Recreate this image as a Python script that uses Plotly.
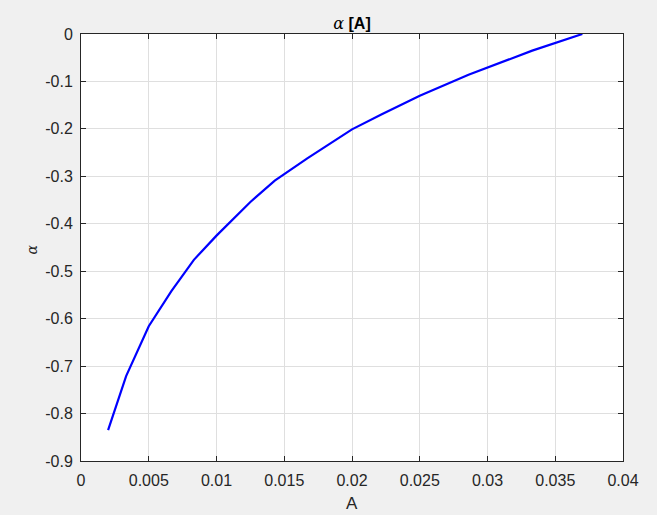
import plotly.graph_objects as go

a_vals = [0.002, 0.00333, 0.005, 0.00667, 0.00833, 0.01, 0.0125, 0.0143, 0.0167,
          0.02, 0.0222, 0.025, 0.0286, 0.0308, 0.0333, 0.037]
alpha_vals = [-0.835, -0.721, -0.616, -0.542, -0.476, -0.425, -0.354, -0.309, -0.262,
              -0.201, -0.169, -0.13, -0.086, -0.062, -0.035, 0.0]

x_ticks = [0, 0.005, 0.01, 0.015, 0.02, 0.025, 0.03, 0.035, 0.04]
x_labels = ["0", "0.005", "0.01", "0.015", "0.02", "0.025", "0.03", "0.035", "0.04"]
y_ticks = [0, -0.1, -0.2, -0.3, -0.4, -0.5, -0.6, -0.7, -0.8, -0.9]
y_labels = ["0", "-0.1", "-0.2", "-0.3", "-0.4", "-0.5", "-0.6", "-0.7", "-0.8", "-0.9"]

fig = go.Figure(go.Scatter(x=a_vals, y=alpha_vals, mode="lines",
                           line=dict(color="#0000ff", width=2.2)))

axis_style = dict(showline=True, linecolor="#262626", linewidth=1, mirror="ticks",
                  ticks="inside", ticklen=5, tickcolor="#262626",
                  showgrid=True, gridcolor="#dfdfdf", gridwidth=1, zeroline=False,
                  tickfont=dict(size=16, color="#262626"))

fig.update_xaxes(range=[0, 0.04], tickvals=x_ticks, ticktext=x_labels,
                 ticklabelstandoff=5, **axis_style)
fig.update_yaxes(range=[-0.9, 0], tickvals=y_ticks, ticktext=y_labels,
                 ticklabelstandoff=4, **axis_style)

# axis titles placed as annotations for exact positioning
fig.add_annotation(text="A", xref="paper", yref="paper",
                   x=0.5, y=-43 / 427, xanchor="center", yanchor="middle",
                   showarrow=False, font=dict(size=17, color="#262626"))
fig.add_annotation(text="<i>α</i>", xref="paper", yref="paper",
                   x=-50 / 542, y=0.5 - 2 / 427, xanchor="center", yanchor="middle",
                   textangle=-90, showarrow=False,
                   font=dict(size=14, color="#262626", family="DejaVu Serif"))

fig.update_layout(
    width=657, height=515,
    margin=dict(l=81, r=34, t=34, b=54),
    paper_bgcolor="#f0f0f0", plot_bgcolor="#ffffff",
    font=dict(family="Liberation Sans, Arial, sans-serif", color="#262626"),
    showlegend=False,
    title=dict(text="<span style='font-family:DejaVu Serif;font-weight:normal'><i>α</i></span> <b>[A]</b>",
               x=0.5, xanchor="center", xref="paper", y=1 - 23 / 515, yanchor="middle",
               font=dict(size=16, color="#000000")),
)

fig.write_html("out.html", config={"displayModeBar": False},
               post_script="document.body.style.margin='0';"
                           "document.body.style.background='#f0f0f0';")
